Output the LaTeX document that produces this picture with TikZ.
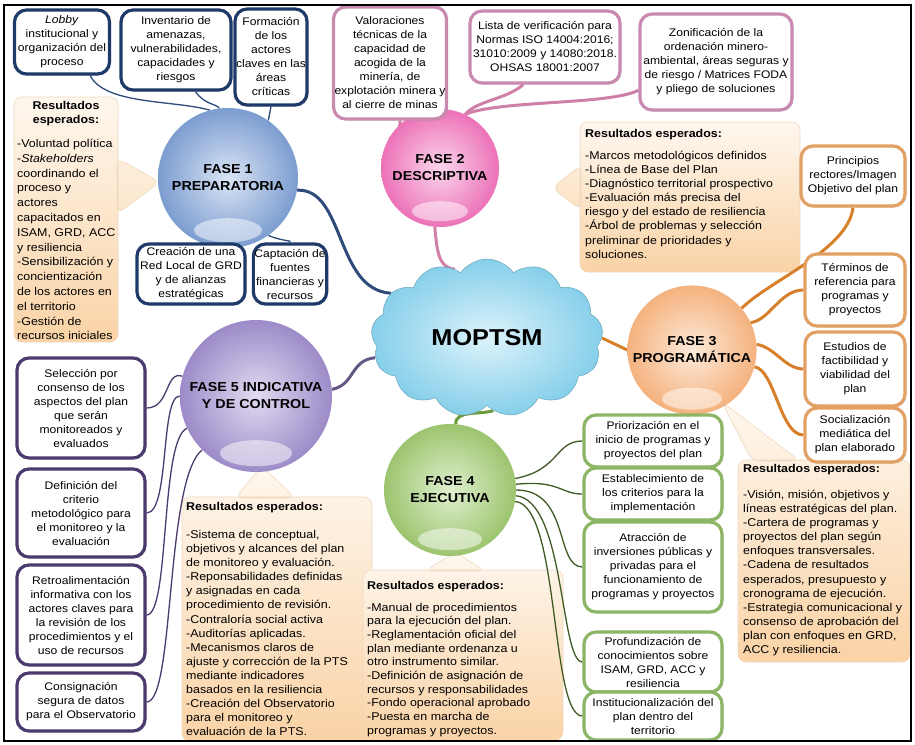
\documentclass[tikz,border=0pt]{standalone}
\usepackage{fontspec}
\setmainfont{Liberation Sans}[FakeStretch=1.1]
\usetikzlibrary{shapes.symbols,shadows}
\pgfdeclarelayer{back}\pgfdeclarelayer{bg}
\pgfsetlayers{back,bg,main}
\definecolor{navybd}{HTML}{1F3A68}
\definecolor{navyln}{HTML}{2E4B7C}
\definecolor{pinkbd}{HTML}{C98AB0}
\definecolor{pinkln}{HTML}{D07FA8}
\definecolor{orbd}{HTML}{E3A064}
\definecolor{orln}{HTML}{D77F2A}
\definecolor{grbd}{HTML}{8CB565}
\definecolor{grln}{HTML}{3F5A25}
\definecolor{grmain}{HTML}{6E9A3E}
\definecolor{purbd}{HTML}{4A3A6E}
\definecolor{purln}{HTML}{4A3A6E}
\definecolor{restop}{HTML}{FEF7EE}
\definecolor{resbot}{HTML}{FAD3A6}
\definecolor{resbd}{HTML}{EFD9BF}
\definecolor{fa}{HTML}{7C9DD0}\definecolor{fai}{HTML}{D9E4F5}
\definecolor{fb}{HTML}{EC72B8}\definecolor{fbi}{HTML}{FBD6EC}
\definecolor{fc}{HTML}{F4B27E}\definecolor{fci}{HTML}{FDEADA}
\definecolor{fd}{HTML}{9CC46E}\definecolor{fdi}{HTML}{E0F0CF}
\definecolor{fe}{HTML}{9C8BC8}\definecolor{fei}{HTML}{E2DAF1}
\definecolor{cl}{HTML}{86CFEA}\definecolor{cli}{HTML}{DDF3FB}
\newcommand\bxf{\fontsize{11}{14}\selectfont}
\newcommand\rsf{\fontsize{11.3}{14.1}\selectfont}
\newcommand\phf{\fontsize{13}{17}\selectfont\bfseries}
\tikzset{
 tagbox/.style={draw=#1, line width=3.2pt, rounded corners=12pt, fill=white, align=center, font=\bxf, inner sep=1pt,
   drop shadow={opacity=0.25,shadow xshift=1.5pt,shadow yshift=-1.5pt}},
 phase/.style 2 args={circle, minimum size=#1, inner color=#2i, outer color=#2, align=center, font=\phf},
 hl/.style={fill=white, fill opacity=0.5},
 thinln/.style={draw=#1, line width=1.3pt},
 thickln/.style={draw=#1, line width=3pt},
 restext/.style={align=left, font=\rsf, inner sep=0pt, anchor=north west},
 resbox/.style={top color=restop, bottom color=resbot, draw=resbd, line width=0.6pt, rounded corners=8pt},
}
\begin{document}
\begin{tikzpicture}[x=1pt,y=-1pt]
\useasboundingbox (0,0) rectangle (915,744);
\begin{pgfonlayer}{back}
\fill[white] (0,0) rectangle (915,744);
\end{pgfonlayer}

% ---------- phase circles and cloud ----------
\node[phase={140}{fa}] (f1) at (228,178) {FASE 1\\PREPARATORIA};
\node[phase={118}{fb}] (f2) at (440,168) {FASE 2\\DESCRIPTIVA};
\node[phase={124}{fc}] (f3) at (692,350) {FASE 3\\PROGRAMÁTICA};
\node[phase={132}{fd}] (f4) at (450,490) {FASE 4\\EJECUTIVA};
\node[phase={152}{fe}] (f5) at (256,396) {FASE 5 INDICATIVA\\Y DE CONTROL};
\node[cloud, cloud puffs=13, cloud puff arc=110, aspect=1.45, minimum width=232, minimum height=158,
  inner color=cli, outer color=cl, draw=cl!80!black, line width=0.5pt, font=\fontsize{23}{26}\selectfont\bfseries] (mop) at (487,338) {MOPTSM};
\fill[hl] (f1.south) ++(0,-18) ellipse [x radius=34, y radius=12];
\fill[hl] (f2.south) ++(0,-16) ellipse [x radius=28, y radius=10];
\fill[hl] (f3.south) ++(0,-16) ellipse [x radius=30, y radius=11];
\fill[hl] (f4.south) ++(0,-17) ellipse [x radius=32, y radius=11];
\fill[hl] (f5.south) ++(0,-19) ellipse [x radius=36, y radius=13];

% ---------- Fase 1 boxes ----------
\node[tagbox=navybd, minimum width=95, minimum height=64] (lobby) at (62,42) {\textit{Lobby}\\institucional y\\organización del\\proceso};
\node[tagbox=navybd, minimum width=110, minimum height=80] (invent) at (176,50) {Inventario de\\amenazas,\\vulnerabilidades,\\capacidades y\\riesgos};
\node[tagbox=navybd, minimum width=68, minimum height=96] (formac) at (271,57) {Formación\\de los\\actores\\claves en las\\áreas\\críticas};
\node[tagbox=navybd, minimum width=108, minimum height=60] (creac) at (191,274) {Creación de una\\Red Local de GRD\\y de alianzas\\estratégicas};
\node[tagbox=navybd, minimum width=72, minimum height=60] (capta) at (290,274) {Captación de\\fuentes\\financieras y\\recursos};

% ---------- Fase 2 boxes ----------
\node[tagbox=pinkbd, minimum width=112, minimum height=112] (valor) at (390,63) {Valoraciones\\técnicas de la\\capacidad de\\acogida de la\\minería, de\\explotación minera y\\al cierre de minas};
\node[tagbox=pinkbd, minimum width=150, minimum height=72] (lista) at (545,47) {Lista de verificación para\\Normas ISO 14004:2016;\\31010:2009 y 14080:2018.\\OHSAS 18001:2007};
\node[tagbox=pinkbd, minimum width=152, minimum height=96] (zonif) at (716,62) {Zonificación de la\\ordenación minero-\\ambiental, áreas seguras y\\de riesgo / Matrices FODA\\y pliego de soluciones};

% ---------- Fase 3 boxes ----------
\node[tagbox=orbd, minimum width=104, minimum height=60] (princ) at (853,176) {Principios\\rectores/Imagen\\Objetivo del plan};
\node[tagbox=orbd, minimum width=100, minimum height=72] (termi) at (855,290) {Términos de\\referencia para\\programas y\\proyectos};
\node[tagbox=orbd, minimum width=100, minimum height=74] (estud) at (855,369) {Estudios de\\factibilidad y\\viabilidad del\\plan};
\node[tagbox=orbd, minimum width=100, minimum height=54] (socia) at (855,435) {Socialización\\mediática del\\plan elaborado};

% ---------- Fase 4 boxes ----------
\node[tagbox=grbd, minimum width=138, minimum height=52] (prior) at (653,441) {Priorización en el\\inicio de programas y\\proyectos del plan};
\node[tagbox=grbd, minimum width=138, minimum height=52] (estab) at (653,494) {Establecimiento de\\los criterios para la\\implementación};
\node[tagbox=grbd, minimum width=138, minimum height=90] (atrac) at (653,567) {Atracción de\\inversiones públicas y\\privadas para el\\funcionamiento de\\programas y proyectos};
\node[tagbox=grbd, minimum width=138, minimum height=60] (profu) at (653,662) {Profundización de\\conocimientos sobre\\ISAM, GRD, ACC y\\resiliencia};
\node[tagbox=grbd, minimum width=138, minimum height=48] (insti) at (653,716) {Institucionalización del\\plan dentro del\\territorio};

% ---------- Fase 5 boxes ----------
\node[tagbox=purbd, minimum width=128, minimum height=100] (selec) at (81,408) {Selección por\\consenso de los\\aspectos del plan\\que serán\\monitoreados y\\evaluados};
\node[tagbox=purbd, minimum width=128, minimum height=88] (defin) at (81,513) {Definición del\\criterio\\metodológico para\\el monitoreo y la\\evaluación};
\node[tagbox=purbd, minimum width=128, minimum height=100] (retro) at (81,615) {Retroalimentación\\informativa con los\\actores claves para\\la revisión de los\\procedimientos y el\\uso de recursos};
\node[tagbox=purbd, minimum width=128, minimum height=58] (consi) at (81,702) {Consignación\\segura de datos\\para el Observatorio};

% ---------- results boxes ----------
\begin{pgfonlayer}{back}
\path[resbox] (14,97) rectangle (118,342) (117,158) -- (160,182) -- (117,214) -- cycle;
\path[resbox] (580,122) rectangle (800,272) (581,165) -- (552,188) -- (581,210) -- cycle;
\path[resbox] (738,460) rectangle (910,662) (752,461) -- (722,402) -- (800,461) -- cycle;
\path[resbox] (182,497) rectangle (372,741) (235,498) -- (262,466) -- (295,498) -- cycle;
\path[resbox] (363,570) rectangle (563,740) (425,571) -- (455,552) -- (485,571) -- cycle;
\end{pgfonlayer}
\node[font=\rsf\bfseries, align=center] (r1h) at (66,114) {Resultados\\esperados:};
\node[restext, font=\fontsize{11.3}{14.8}\selectfont] (r1t) at (17,139) {-Voluntad política\\-\textit{Stakeholders}\\coordinando el\\proceso y\\actores\\capacitados en\\ISAM, GRD, ACC\\y resiliencia\\-Sensibilización y\\concientización\\de los actores en\\el territorio\\-Gestión de\\recursos iniciales};
\node[restext] (r2t) at (585,129) {\textbf{Resultados esperados:}\\[8pt]-Marcos metodológicos definidos\\-Línea de Base del Plan\\-Diagnóstico territorial prospectivo\\-Evaluación más precisa del\\riesgo y del estado de resiliencia\\-Árbol de problemas y selección\\preliminar de prioridades y\\soluciones.};
\node[restext] (r3t) at (743,464) {\textbf{Resultados esperados:}\\[12pt]-Visión, misión, objetivos y\\líneas estratégicas del plan.\\-Cartera de programas y\\proyectos del plan según\\enfoques transversales.\\-Cadena de resultados\\esperados, presupuesto y\\cronograma de ejecución.\\-Estrategia comunicacional y\\consenso de aprobación del\\plan con enfoques en GRD,\\ACC y resiliencia.};
\node[restext] (r4t) at (186,502) {\textbf{Resultados esperados:}\\[14pt]-Sistema de conceptual,\\objetivos y alcances del plan\\de monitoreo y evaluación.\\-Reponsabilidades definidas\\y asignadas en cada\\procedimiento de revisión.\\-Contraloría social activa\\-Auditorías aplicadas.\\-Mecanismos claros de\\ajuste y corrección de la PTS\\mediante indicadores\\basados en la resiliencia\\-Creación del Observatorio\\para el monitoreo y\\evaluación de la PTS.};
\node[restext, font=\fontsize{11.3}{13.7}\selectfont] (r5t) at (367,581) {\textbf{Resultados esperados:}\\[8pt]-Manual de procedimientos\\para la ejecución del plan.\\-Reglamentación oficial del\\plan mediante ordenanza u\\otro instrumento similar.\\-Definición de asignación de\\recursos y responsabilidades\\-Fondo operacional aprobado\\-Puesta en marcha de\\programas y proyectos.};

% ---------- connectors ----------
\begin{pgfonlayer}{bg}
\draw[thinln=navyln] (lobby.-50) .. controls (105,105) and (175,100) .. (f1.105);
\draw[thinln=navyln] (invent.-65) .. controls (205,105) and (215,103) .. (f1.97);
\draw[thinln=navyln] (formac.south) -- (f1.55);
\draw[thinln=navyln] (f1.247) -- (f1.247 |- creac.north);
\draw[thinln=navyln] (f1.-55) .. controls (285,242) and (292,240) .. (capta.north);
\draw[thickln=navyln] (f1.-10) .. controls (345,188) and (335,290) .. (mop.155);
\draw[thickln=pinkln] (valor.-80) .. controls (400,130) and (395,140) .. (f2.150);
\draw[thickln=pinkln] (f2.65) .. controls (478,100) and (505,100) .. (lista.-120);
\draw[thickln=pinkln] (f2.65) .. controls (500,100) and (610,105) .. (zonif.-160);
\draw[thickln=pinkln] (f2.-95) .. controls (437,255) and (440,268) .. (mop.115);
\draw[thickln=orln] (f3.180) -- (mop.0);
\draw[thickln=orln] (f3.40) .. controls (770,280) and (848,250) .. (princ.south);
\draw[thickln=orln] (f3.25) .. controls (770,320) and (780,290) .. (termi.west);
\draw[thickln=orln] (f3.5) .. controls (775,347) and (785,369) .. (estud.west);
\draw[thickln=orln] (f3.-15) .. controls (775,370) and (780,435) .. (socia.west);
\draw[thickln=grmain] (mop.275) .. controls (480,415) and (455,410) .. (f4.85);
\draw[thinln=grln] (f4.10) .. controls (560,470) and (555,441) .. (prior.west);
\draw[thinln=grln] (f4.5) .. controls (560,480) and (560,494) .. (estab.west);
\draw[thinln=grln] (f4.0) .. controls (570,490) and (555,567) .. (atrac.west);
\draw[thinln=grln] (f4.-5) .. controls (565,500) and (560,662) .. (profu.west);
\draw[thinln=grln] (f4.-10) .. controls (560,505) and (550,716) .. (insti.west);
\draw[thickln=purln!85!white] (f5.5) .. controls (355,385) and (350,360) .. (mop.190);
\draw[thinln=purln] (f5.165) .. controls (165,370) and (170,408) .. (selec.east);
\draw[thinln=purln] (f5.180) .. controls (160,396) and (170,513) .. (defin.east);
\draw[thinln=purln] (f5.205) .. controls (160,440) and (170,615) .. (retro.east);
\draw[thinln=purln] (f5.225) .. controls (165,480) and (175,702) .. (consi.east);
\end{pgfonlayer}

\draw[line width=1.6pt] (4,5) rectangle (911,741);
\end{tikzpicture}
\end{document}
